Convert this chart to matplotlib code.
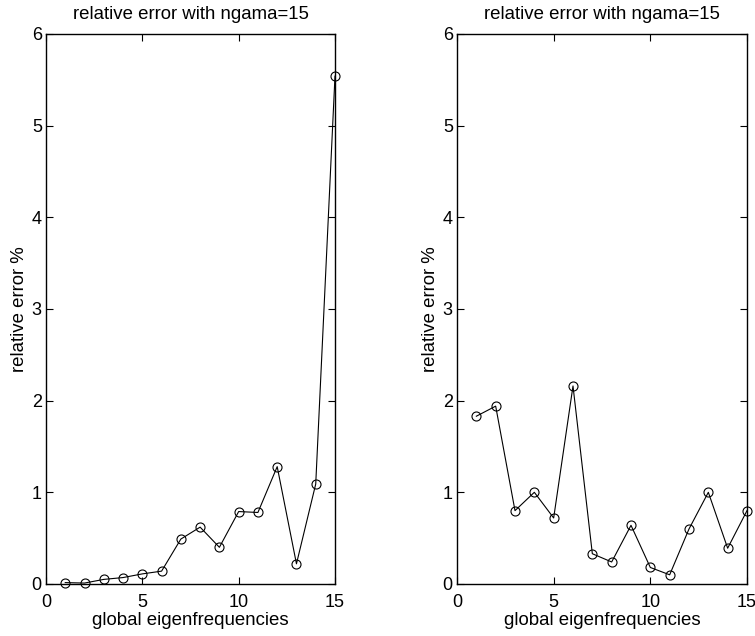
import matplotlib.pyplot as plt
import numpy as np

plt.rcParams['font.family'] = ['Liberation Sans', 'DejaVu Sans']

modes = np.arange(1, 16)
err_left = [0.015, 0.01, 0.05, 0.07, 0.11, 0.14, 0.49, 0.62, 0.40, 0.79,
            0.78, 1.28, 0.22, 1.09, 5.54]
err_right = [1.83, 1.94, 0.80, 1.00, 0.72, 2.16, 0.33, 0.24, 0.64, 0.18,
             0.10, 0.60, 1.00, 0.39, 0.80]

title = 'relative error with ngama=15'
xticks = [0, 5, 10, 15]
yticks = [0, 1, 2, 3, 4, 5, 6]

fig = plt.figure(figsize=(7.55, 6.36), dpi=100)
ax1 = fig.add_axes([0.0609, 0.0818, 0.3828, 0.8648])
ax2 = fig.add_axes([0.6053, 0.0818, 0.3841, 0.8648])

for ax, err in [(ax1, err_left), (ax2, err_right)]:
    ax.plot(modes, err, '-o', color='black', lw=0.8, ms=6.5,
            mfc='none', mec='black', mew=0.8, clip_on=False)
    ax.set_xlim(0, 15)
    ax.set_ylim(0, 6)
    ax.set_xticks(xticks)
    ax.set_yticks(yticks)
    ax.tick_params(direction='in', top=True, right=True, length=5,
                   width=0.8, labelsize=13)
    ax.tick_params(axis='x', pad=7)
    ax.tick_params(axis='y', pad=3)
    for s in ax.spines.values():
        s.set_linewidth(1.0)
    ax.set_title(title, fontsize=13.4, pad=10.8)
    ax.set_xlabel('global eigenfrequencies', fontsize=13.4, labelpad=1)
    ax.set_ylabel('relative error %', fontsize=13.4, labelpad=3)

fig.savefig('out.png', dpi=100)
